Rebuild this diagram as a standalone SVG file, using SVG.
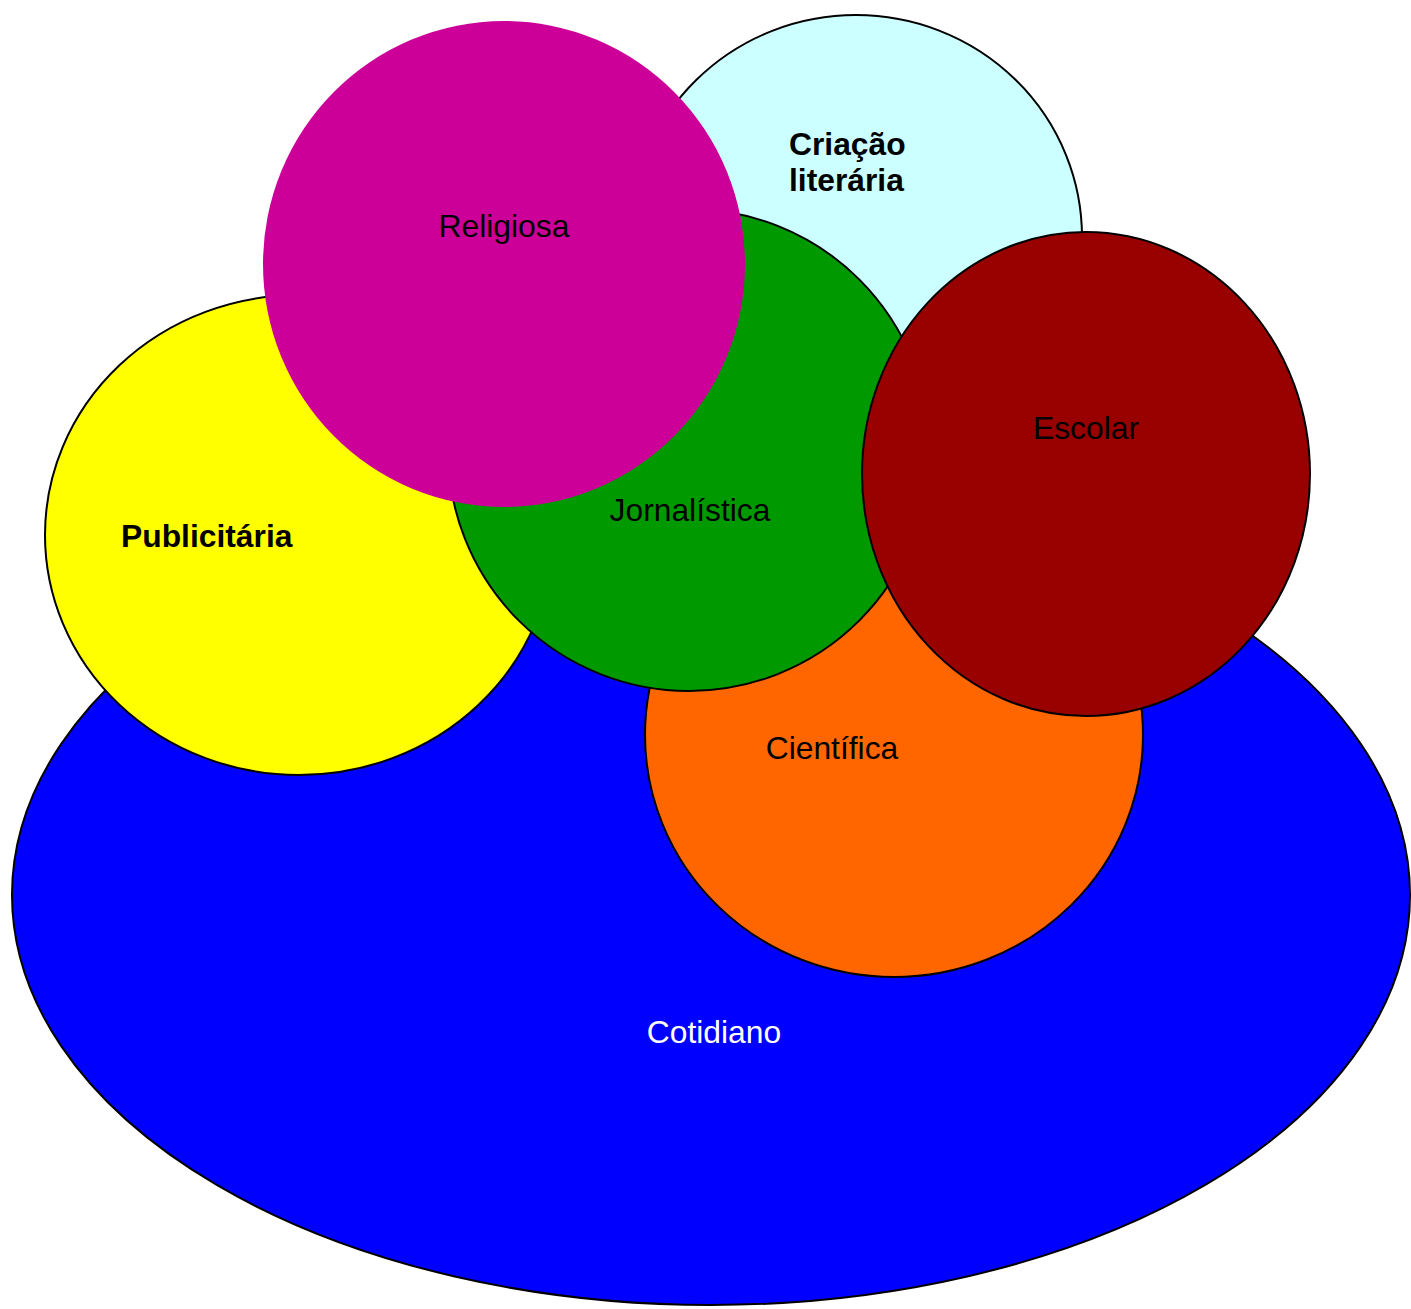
<svg xmlns="http://www.w3.org/2000/svg" width="1411" height="1309" viewBox="0 0 1411 1309">
<style>
.s{stroke:#000;stroke-width:2}
.t{font-family:"Liberation Sans",Arial,sans-serif;font-size:31.8px;fill:#000}
.b{font-weight:bold}
</style>
<rect width="1411" height="1309" fill="#fff"/>
<g id="cotidiano"><ellipse class="s" cx="711" cy="895" rx="699" ry="410" fill="#0000FF"/><text class="t" x="714" y="1043" text-anchor="middle" style="fill:#fff">Cotidiano</text></g>
<g id="publicitaria"><ellipse class="s" cx="299" cy="535" rx="254" ry="240" fill="#FFFF00"/><text class="t b" x="121" y="547">Publicitária</text></g>
<g id="criacao"><ellipse class="s" cx="856" cy="237" rx="226" ry="222" fill="#CCFFFF"/><text class="t b" x="789" y="155">Criação</text><text class="t b" x="789" y="191">literária</text></g>
<g id="cientifica"><ellipse class="s" cx="894" cy="735" rx="249" ry="242" fill="#FF6600"/><text class="t" x="832" y="759" text-anchor="middle">Científica</text></g>
<g id="jornalistica"><ellipse class="s" cx="689" cy="450" rx="241" ry="241" fill="#009900"/><text class="t" x="690" y="521" text-anchor="middle">Jornalística</text></g>
<g id="religiosa"><ellipse cx="504" cy="264" rx="241" ry="243" fill="#CC0099"/><text class="t" x="504" y="237" text-anchor="middle">Religiosa</text></g>
<g id="escolar"><ellipse class="s" cx="1086" cy="474" rx="224" ry="242" fill="#990000"/><text class="t" x="1086" y="439" text-anchor="middle">Escolar</text></g>
<g id="connectors"></g>
</svg>
